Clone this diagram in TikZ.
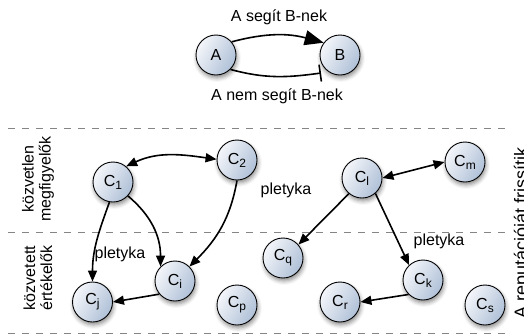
\documentclass[tikz,border=0pt]{standalone}
\usepackage{fontspec}
\setmainfont{Liberation Sans}
\usetikzlibrary{arrows.meta,shadows.blur}
\definecolor{nodeL}{HTML}{F4F6FA}
\definecolor{nodeR}{HTML}{AFC0D7}
\definecolor{dashgray}{HTML}{858585}
\newcommand{\csub}[1]{C\raisebox{-0.35ex}{\fontsize{12}{12}\selectfont #1}}
\begin{document}
\begin{tikzpicture}[x=1pt,y=-1pt,
  cnode/.style={circle,draw=black,line width=0.9pt,minimum size=40pt,inner sep=0pt,
    top color=nodeL,bottom color=nodeR,shading angle=60,
    blur shadow={shadow xshift=1pt,shadow yshift=-3pt,shadow blur radius=4pt,shadow opacity=45},
    font=\fontsize{16}{16}\selectfont},
  lbl/.style={font=\fontsize{16}{17}\selectfont,inner sep=0pt},
  conn/.style={line width=1.6pt},
  sep/.style={draw=dashgray,line width=0.9pt,dash pattern=on 7pt off 7pt},
  tri/.tip={Triangle[length=11pt,width=9pt]},
  bigtri/.tip={Triangle[length=19pt,width=15pt]}
]
\useasboundingbox (0,0) rectangle (524,335);

% separators
\draw[sep] (8,128) -- (508,128);
\draw[sep] (8,232.5) -- (508,232.5);
\draw[sep] (8,333.5) -- (508,333.5);

% top legend
\node[cnode] (A) at (216,55) {A};
\node[cnode] (B) at (340,55) {B};
\node[lbl,anchor=base] (l1) at (279,21) {A segít B-nek};
\node[lbl,anchor=base] (l2) at (277,100) {A nem segít B-nek};
\draw[conn,-bigtri] (A.40) to[out=15,in=165] (B.143);
\draw[conn,-{Bar[width=17pt]}] (A.-45) to[out=-15,in=188] ([shift={(-19pt,-18pt)}]B.center);

% side labels
\node[lbl,rotate=90,align=center] (s1) at (38,179) {közvetlen\\megfigyelők};
\node[lbl,rotate=90,align=center] (s2) at (38,278) {közvetett\\értékelők};
\node[rotate=90,anchor=base,inner sep=0pt,font=\fontsize{18}{18}\selectfont] (upd) at (527,233) {A reputációját frissítik};

% nodes
\node[cnode] (C1) at (113,182) {\csub{1}};
\node[cnode] (C2) at (237,160) {\csub{2}};
\node[cnode] (Ci) at (175,281) {\csub{i}};
\node[cnode] (Cj) at (92.5,302) {\csub{j}};
\node[cnode] (Cp) at (237,305) {\csub{p}};
\node[cnode] (Cq) at (283,258) {\csub{q}};
\node[cnode] (Cl) at (362,178) {\csub{l}};
\node[cnode] (Cm) at (465,162) {\csub{m}};
\node[cnode] (Ck) at (423,280) {\csub{k}};
\node[cnode] (Cr) at (340,302) {\csub{r}};
\node[cnode] (Cs) at (485,305) {\csub{s}};

% pletyka labels
\node[lbl,anchor=base] (p1) at (120,258) {pletyka};
\node[lbl,anchor=base] (p2) at (286,194) {pletyka};
\node[lbl,anchor=base] (p3) at (439,245) {pletyka};

% connectors
\draw[conn,tri-tri] (C1.50) to[out=25,in=172] (C2.178);
\draw[conn,-tri] (C1.-100) to[out=-110,in=90] (Cj.north);
\draw[conn,-tri] (C1.-43) to[out=-40,in=90] (Ci.135);
\draw[conn,-tri] (C2.-90) to[out=-100,in=45] (Ci.45);
\draw[conn,-tri] (Ci.-140) -- (Cj.east);
\draw[conn,tri-tri] (Cl.0) -- (Cm.180);
\draw[conn,-tri] (Cl.-130) -- (Cq.41);
\draw[conn,-tri] (Cl.-49) -- (Ck.133);
\draw[conn,-tri] (Ck.-135) -- (Cr.east);
\end{tikzpicture}
\end{document}
